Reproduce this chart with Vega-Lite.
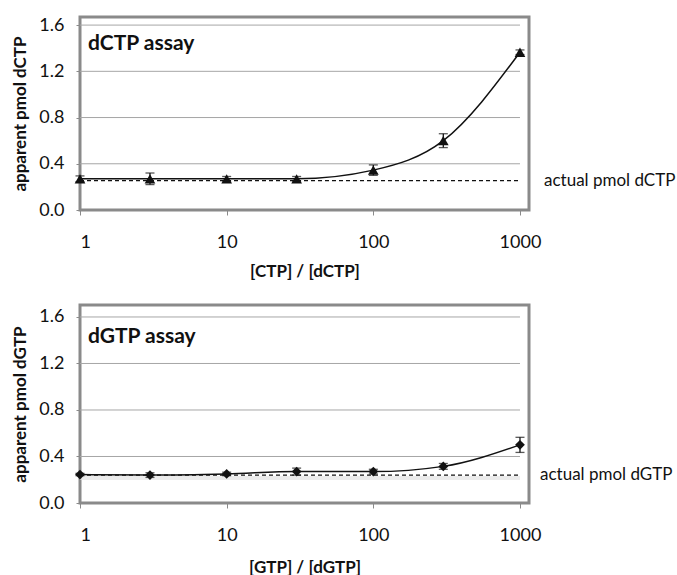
{
  "$schema": "https://vega.github.io/schema/vega-lite/v6.json",
  "padding": {"left": 10, "top": 14, "right": 0, "bottom": 0},
  "spacing": 22,
  "config": {
    "font": "Lato",
    "view": {"stroke": "#8a8a8a", "strokeWidth": 3},
    "axis": {
      "domain": false, "grid": false, "tickColor": "#8a8a8a", "tickSize": 5,
      "labelFont": "Lato", "labelFontSize": 18, "labelColor": "#111",
      "titleFont": "Lato", "titleFontSize": 17, "titleFontWeight": "bold", "titleColor": "#111"
    }
  },
  "datasets": {
    "grid": [{"v": 0.4}, {"v": 0.8}, {"v": 1.2}, {"v": 1.6}],
    "ref": [
      {"panel": "dCTP", "actual": 0.255, "label": "actual pmol dCTP", "title": "dCTP assay"},
      {"panel": "dGTP", "actual": 0.24, "label": "actual pmol dGTP", "title": "dGTP assay"}
    ],
    "dctp": [
      {"x": 1, "y": 0.27, "err": 0.025},
      {"x": 3, "y": 0.27, "err": 0.05},
      {"x": 10, "y": 0.27, "err": 0.02},
      {"x": 30, "y": 0.27, "err": 0.02},
      {"x": 100, "y": 0.345, "err": 0.045},
      {"x": 300, "y": 0.6, "err": 0.06},
      {"x": 1000, "y": 1.365, "err": 0.02}
    ],
    "dgtp": [
      {"x": 1, "y": 0.245, "err": 0.01},
      {"x": 3, "y": 0.24, "err": 0.02},
      {"x": 10, "y": 0.25, "err": 0.015},
      {"x": 30, "y": 0.27, "err": 0.03},
      {"x": 100, "y": 0.27, "err": 0.02},
      {"x": 300, "y": 0.315, "err": 0.025},
      {"x": 1000, "y": 0.5, "err": 0.065}
    ]
  },
  "vconcat": [
    {
      "width": 449, "height": 193,
      "layer": [
        {"data": {"name": "grid"}, "mark": {"type": "rule", "color": "#a6a6a6", "strokeWidth": 1},
         "encoding": {
           "x": {"datum": 1, "type": "quantitative", "title": "[CTP] / [dCTP]", "scale": {"type": "log", "domain": [1, 1152], "nice": false},
                 "axis": {"values": [1, 10, 100, 1000], "format": "d", "labelPadding": 18, "titlePadding": 12}},
           "x2": {"datum": 1000},
           "y": {"field": "v", "type": "quantitative", "title": "apparent pmol dCTP", "scale": {"domain": [0, 1.67], "nice": false},
                 "axis": {"values": [0, 0.4, 0.8, 1.2, 1.6], "format": ".1f", "tickSize": 4, "labelPadding": 12, "titlePadding": 9}}
         }},
        {"data": {"name": "ref"}, "transform": [{"filter": "datum.panel === 'dCTP'"}],
         "mark": {"type": "rule", "color": "#111", "strokeWidth": 1.3, "strokeDash": [4, 3]},
         "encoding": {"x": {"datum": 1, "title": "[CTP] / [dCTP]"}, "x2": {"datum": 1000}, "y": {"field": "actual", "type": "quantitative", "title": "apparent pmol dCTP"}}},
        {"data": {"name": "ref"}, "transform": [{"filter": "datum.panel === 'dCTP'"}],
         "mark": {"type": "text", "align": "left", "baseline": "middle", "dx": 24, "fontSize": 17, "color": "#111"},
         "encoding": {"x": {"datum": 1000, "title": "[CTP] / [dCTP]"}, "y": {"field": "actual", "type": "quantitative", "title": "apparent pmol dCTP"}, "text": {"field": "label"}}},
        {"data": {"name": "ref"}, "transform": [{"filter": "datum.panel === 'dCTP'"}],
         "mark": {"type": "text", "align": "left", "baseline": "middle", "dx": 8, "fontSize": 21, "fontWeight": "bold", "color": "#111"},
         "encoding": {"x": {"datum": 1, "title": "[CTP] / [dCTP]"}, "y": {"datum": 1.44, "title": "apparent pmol dCTP"}, "text": {"field": "title"}}},
        {"data": {"name": "dctp"}, "mark": {"type": "line", "interpolate": "monotone", "color": "#111", "strokeWidth": 1.5},
         "encoding": {"x": {"field": "x", "type": "quantitative", "title": "[CTP] / [dCTP]"}, "y": {"field": "y", "type": "quantitative", "title": "apparent pmol dCTP"}}},
        {"data": {"name": "dctp"}, "mark": {"type": "errorbar", "ticks": {"size": 9}, "color": "#111", "thickness": 1.3},
         "encoding": {"x": {"field": "x", "type": "quantitative", "title": "[CTP] / [dCTP]"}, "y": {"field": "y", "type": "quantitative", "title": "apparent pmol dCTP"}, "yError": {"field": "err"}}},
        {"data": {"name": "dctp"}, "mark": {"type": "point", "shape": "triangle-up", "filled": true, "color": "#111", "size": 115, "opacity": 1},
         "encoding": {"x": {"field": "x", "type": "quantitative", "title": "[CTP] / [dCTP]"}, "y": {"field": "y", "type": "quantitative", "title": "apparent pmol dCTP"}}}
      ]
    },
    {
      "width": 449, "height": 198,
      "layer": [
        {"data": {"name": "grid"}, "mark": {"type": "rule", "color": "#a6a6a6", "strokeWidth": 1},
         "encoding": {
           "x": {"datum": 1, "type": "quantitative", "title": "[GTP] / [dGTP]", "scale": {"type": "log", "domain": [1, 1152], "nice": false},
                 "axis": {"values": [1, 10, 100, 1000], "format": "d", "labelPadding": 18, "titlePadding": 15}},
           "x2": {"datum": 1000},
           "y": {"field": "v", "type": "quantitative", "title": "apparent pmol dGTP", "scale": {"domain": [0, 1.703], "nice": false},
                 "axis": {"values": [0, 0.4, 0.8, 1.2, 1.6], "format": ".1f", "tickSize": 4, "labelPadding": 12, "titlePadding": 9}}
         }},
        {"data": {"name": "ref"}, "transform": [{"filter": "datum.panel === 'dGTP'"}],
         "mark": {"type": "rule", "color": "#e2e2e2", "strokeWidth": 4, "opacity": 0.7, "yOffset": 3},
         "encoding": {"x": {"datum": 1, "title": "[GTP] / [dGTP]"}, "x2": {"datum": 1000}, "y": {"field": "actual", "type": "quantitative", "title": "apparent pmol dGTP"}}},
        {"data": {"name": "ref"}, "transform": [{"filter": "datum.panel === 'dGTP'"}],
         "mark": {"type": "rule", "color": "#111", "strokeWidth": 1.3, "strokeDash": [4, 3]},
         "encoding": {"x": {"datum": 1, "title": "[GTP] / [dGTP]"}, "x2": {"datum": 1000}, "y": {"field": "actual", "type": "quantitative", "title": "apparent pmol dGTP"}}},
        {"data": {"name": "ref"}, "transform": [{"filter": "datum.panel === 'dGTP'"}],
         "mark": {"type": "text", "align": "left", "baseline": "middle", "dx": 20, "fontSize": 17, "color": "#111"},
         "encoding": {"x": {"datum": 1000, "title": "[GTP] / [dGTP]"}, "y": {"field": "actual", "type": "quantitative", "title": "apparent pmol dGTP"}, "text": {"field": "label"}}},
        {"data": {"name": "ref"}, "transform": [{"filter": "datum.panel === 'dGTP'"}],
         "mark": {"type": "text", "align": "left", "baseline": "middle", "dx": 8, "fontSize": 21, "fontWeight": "bold", "color": "#111"},
         "encoding": {"x": {"datum": 1, "title": "[GTP] / [dGTP]"}, "y": {"datum": 1.43, "title": "apparent pmol dGTP"}, "text": {"field": "title"}}},
        {"data": {"name": "dgtp"}, "mark": {"type": "line", "interpolate": "monotone", "color": "#111", "strokeWidth": 1.5},
         "encoding": {"x": {"field": "x", "type": "quantitative", "title": "[GTP] / [dGTP]"}, "y": {"field": "y", "type": "quantitative", "title": "apparent pmol dGTP"}}},
        {"data": {"name": "dgtp"}, "mark": {"type": "errorbar", "ticks": {"size": 9}, "color": "#111", "thickness": 1.3},
         "encoding": {"x": {"field": "x", "type": "quantitative", "title": "[GTP] / [dGTP]"}, "y": {"field": "y", "type": "quantitative", "title": "apparent pmol dGTP"}, "yError": {"field": "err"}}},
        {"data": {"name": "dgtp"}, "mark": {"type": "point", "shape": "diamond", "filled": true, "color": "#111", "size": 95, "opacity": 1},
         "encoding": {"x": {"field": "x", "type": "quantitative", "title": "[GTP] / [dGTP]"}, "y": {"field": "y", "type": "quantitative", "title": "apparent pmol dGTP"}}}
      ]
    }
  ]
}
